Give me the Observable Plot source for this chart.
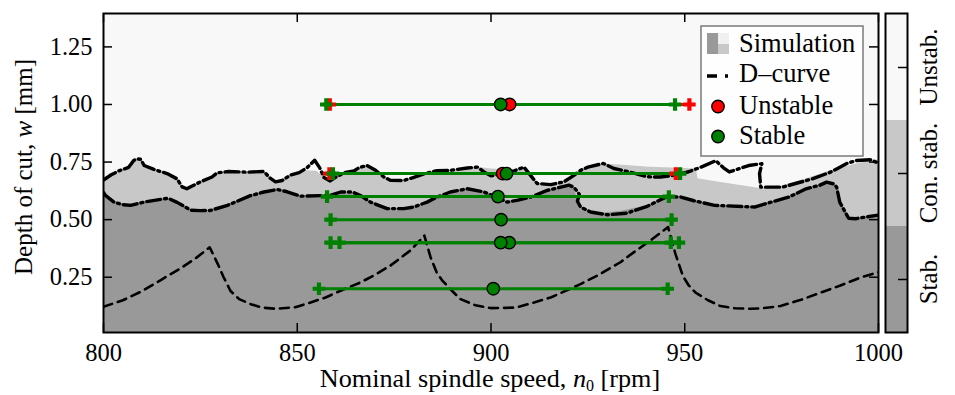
<!DOCTYPE html>
<html><head><meta charset="utf-8">
<script src="https://cdn.jsdelivr.net/npm/d3@7"></script>
<script src="https://cdn.jsdelivr.net/npm/@observablehq/plot@0.6"></script>
<style>
body{margin:0;background:#fff;}
#wrap{position:relative;width:955px;height:395px;}
#wrap svg{position:absolute;top:0;}
</style></head><body><div id="wrap"></div>
<script>
// ---------------- data ----------------
const xTicks = [800, 850, 900, 950, 1000];
const yTicks = [0.25, 0.50, 0.75, 1.00, 1.25];

// simulation: top of the conditionally-stable (light grey) region
const condStabTop = [
 [800,0.672],[802,0.695],[804,0.712],[806.5,0.727],[807.8,0.757],[808.6,0.764],[809.6,0.762],[810.5,0.735],[813,0.718],[816.4,0.700],[819,0.677],[820.3,0.642],[821.5,0.634],[822.5,0.643],[825,0.664],[828,0.685],[829.3,0.703],[832.3,0.709],[837,0.706],[841.4,0.709],[843,0.680],[844.4,0.664],[846.1,0.670],[848.3,0.694],[852,0.712],[855,0.710],[857,0.684],[858.5,0.668],[860.5,0.690],[862.5,0.705],[864.6,0.711],[866,0.726],[868,0.738],[870.2,0.716],[872.3,0.686],[874,0.671],[877.5,0.670],[880.1,0.684],[882.7,0.699],[886.1,0.713],[889.5,0.714],[893.9,0.724],[896.5,0.728],[900,0.720],[906,0.715],[908.5,0.725],[910.2,0.692],[911.9,0.657],[915.4,0.652],[918.8,0.664],[921.4,0.692],[923.1,0.714],[926,0.735],[929,0.742],[935,0.735],[941,0.728],[947,0.724],[953,0.720],[953.4,0.678],[961,0.657],[969.9,0.634],[974,0.641],[981,0.675],[988,0.713],[994,0.740],[1000,0.760]
];
// simulation: top of the stable (dark grey) region
const stabTop = [
 [800,0.620],[801,0.605],[802.7,0.580],[805,0.568],[807,0.568],[811,0.580],[816.4,0.591],[819,0.575],[822.5,0.543],[825,0.540],[827.6,0.541],[832,0.562],[837.9,0.604],[841.4,0.620],[844.8,0.630],[847.4,0.621],[850.8,0.603],[858.5,0.605],[861.2,0.618],[864.2,0.619],[866.3,0.605],[868.9,0.577],[873.2,0.549],[877.5,0.548],[880.1,0.555],[883.5,0.576],[886.1,0.598],[889.5,0.619],[893.9,0.632],[898.2,0.620],[901,0.600],[904.2,0.578],[907,0.588],[910.2,0.600],[914.5,0.625],[918,0.640],[920.1,0.650],[921.5,0.630],[922.5,0.585],[924,0.545],[928.3,0.528],[933.4,0.535],[940.3,0.560],[947,0.604],[950,0.598],[952.4,0.585],[957.5,0.563],[968.2,0.556],[970.8,0.568],[976.9,0.597],[981.3,0.632],[984.8,0.649],[986.6,0.660],[988.8,0.645],[989.8,0.590],[991.4,0.530],[992.5,0.506],[994,0.505],[1000,0.520]
];
// D-curve branches
const upperDCurve = [
 [800,0.672],[802,0.695],[804,0.712],[806.5,0.727],[807.8,0.757],[808.6,0.764],[809.6,0.762],[810.5,0.735],[813,0.718],[816.4,0.700],[819,0.677],[820.3,0.642],[821.5,0.634],[822.5,0.643],[825,0.664],[828,0.685],[829.3,0.703],[832.3,0.709],[837,0.706],[841.4,0.709],[843,0.680],[844.4,0.664],[846.1,0.670],[848.3,0.694],[850.5,0.704],[852.5,0.725],[854.5,0.758],[855.8,0.725],[856.9,0.683],[858.5,0.668],[860.5,0.690],[862.5,0.705],[864.6,0.711],[866,0.726],[868,0.735],[870.2,0.714],[872.3,0.686],[874,0.671],[877.5,0.670],[880.1,0.684],[882.7,0.699],[886.1,0.713],[889.5,0.714],[893.9,0.724],[896.5,0.728],[898.2,0.707],[900,0.690],[903,0.700],[906,0.712],[908.5,0.728],[910.2,0.692],[911.9,0.657],[915.4,0.652],[918.8,0.664],[921.4,0.692],[923.1,0.714],[925,0.728],[929,0.744],[931.7,0.722],[936,0.706],[940.3,0.686],[943.7,0.685],[947.2,0.692],[951,0.708],[954.2,0.728],[958,0.756],[960,0.725],[961.5,0.707],[966.5,0.735],[969.9,0.743],[969.3,0.700],[969.6,0.641],[975.2,0.641],[983.1,0.678],[987.6,0.706],[989.2,0.720],[991.7,0.743],[994.3,0.757],[997.9,0.760],[1000,0.745]
];
const lowerDCurve = [
 [800,0.618],[800.5,0.605],[802.7,0.576],[805,0.565],[807,0.562],[811,0.578],[816.7,0.593],[819,0.575],[822.5,0.541],[825,0.539],[827.6,0.540],[832,0.562],[837.9,0.604],[841.4,0.620],[844.8,0.631],[847.4,0.621],[850.8,0.602],[858.5,0.605],[861.2,0.620],[864.2,0.620],[866.3,0.605],[868.9,0.576],[873.2,0.548],[877.5,0.548],[880.1,0.555],[883.5,0.576],[886.1,0.598],[889.5,0.620],[893.9,0.634],[898.2,0.620],[901,0.600],[904.2,0.576],[907,0.585],[910.2,0.598],[914.5,0.627],[918,0.641],[920.1,0.650],[921.4,0.641],[922.8,0.610],[922.3,0.580],[923.1,0.555],[925.7,0.533],[930,0.521],[935,0.528],[940.3,0.558],[945.4,0.600],[949,0.598],[952.4,0.582],[957.7,0.562],[968.2,0.555],[970.8,0.569],[976.9,0.598],[981.3,0.634],[984.8,0.649],[986.6,0.663],[988.5,0.655],[989.2,0.641],[990,0.576],[991.4,0.533],[992.3,0.506],[994,0.504],[1000,0.520]
];
const lobeCurve = [
 [800,0.122],[805,0.150],[810,0.190],[815,0.240],[820,0.290],[824,0.335],[827.4,0.380],[829.5,0.307],[831,0.250],[832.8,0.190],[835,0.155],[838,0.133],[841,0.118],[844.4,0.113],[849.5,0.120],[853,0.138],[857.3,0.162],[861,0.190],[866.3,0.227],[870,0.260],[874,0.300],[879.2,0.366],[882.8,0.431],[884.4,0.337],[886,0.270],[887.5,0.234],[890,0.190],[892.1,0.155],[896,0.128],[899.9,0.116],[906.3,0.118],[910,0.135],[915.4,0.162],[923.1,0.220],[928,0.262],[933.4,0.315],[937,0.360],[941.2,0.410],[945.7,0.468],[947.6,0.351],[949.5,0.256],[951,0.215],[952.8,0.183],[956,0.150],[959.2,0.125],[963,0.115],[967,0.113],[970,0.115],[974.7,0.125],[980,0.152],[985,0.183],[990,0.213],[995.4,0.249],[1000,0.272]
];

// experiments: nominal speed, speed-variation amplitude, depth of cut, result
const expN0     = [904.8, 903.0, 902.5, 904.0, 901.8, 902.6, 904.7, 902.5, 900.6];
const expAmp    = [46.4,  44.7,  45.0,  44.8,  44.1,  44.0,  43.8,  43.9,  45.0];
const expDepth  = [1.00,  0.70,  1.00,  0.70,  0.60,  0.50,  0.40,  0.40,  0.20];
const expResult = ["Unstable","Unstable","Stable","Stable","Stable","Stable","Stable","Stable","Stable"];

const cbCats = ["Unstab.", "Con. stab.", "Stab."];
const legendLabels = ["Simulation", "D\u2013curve", "Unstable", "Stable"];

// ---------------- styling ----------------
const FONT = "'Liberation Serif', 'DejaVu Serif', serif";
const C_UNSTAB = "#f8f8f8", C_COND = "#c8c8c8", C_STAB = "#999999";
const cbColors = [C_UNSTAB, C_COND, C_STAB];
const resColor = {Unstable: "#ff0000", Stable: "#008000"};
const W = 955, H = 395, ML = 103, MR = 77, MT = 13, MB = 63;
const IW = W - ML - MR, IH = H - MT - MB, TK = 9;

const exps = expN0.map((n, i) => ({n0: n, amp: expAmp[i], w: expDepth[i], res: expResult[i]}));
const ends = exps.flatMap(e => [{x: e.n0 - e.amp, w: e.w, res: e.res}, {x: e.n0 + e.amp, w: e.w, res: e.res}]);
const dash = "14,4,2,4";

const main = Plot.plot({
  width: W, height: H, marginLeft: ML, marginRight: MR, marginTop: MT, marginBottom: MB,
  style: {fontFamily: FONT, fontSize: "24px", background: "transparent", color: "black"},
  x: {domain: [800, 1000]},
  y: {domain: [0.01, 1.395]},
  color: {type: "identity"},
  marks: [
    Plot.frame({fill: C_UNSTAB}),
    Plot.areaY(condStabTop, {x: d => d[0], y: d => d[1], fill: C_COND, clip: true}),
    Plot.areaY(stabTop, {x: d => d[0], y: d => d[1], fill: C_STAB, clip: true}),
    Plot.line(lobeCurve, {x: d => d[0], y: d => d[1], stroke: "black", strokeWidth: 2.6, strokeDasharray: "9,6", clip: true}),
    Plot.line(lowerDCurve, {x: d => d[0], y: d => d[1], stroke: "black", strokeWidth: 3.4, strokeDasharray: dash, clip: true}),
    Plot.line(upperDCurve, {x: d => d[0], y: d => d[1], stroke: "black", strokeWidth: 3.4, strokeDasharray: dash, clip: true}),
    Plot.link(exps, {x1: d => d.n0 - d.amp, x2: d => d.n0 + d.amp, y1: d => d.w, y2: d => d.w, stroke: d => resColor[d.res], strokeWidth: 3}),
    Plot.dot(ends, {x: "x", y: "w", symbol: "cross", r: 5.3, fill: d => resColor[d.res], stroke: "none"}),
    Plot.dot(exps, {x: "n0", y: "w", r: 6.2, fill: d => resColor[d.res], stroke: "black", strokeWidth: 1.4}),
    // inward ticks on all four sides
    Plot.tickX(xTicks, {x: d => d, insetTop: IH - TK, stroke: "black", strokeWidth: 1.5}),
    Plot.tickX(xTicks, {x: d => d, insetBottom: IH - TK, stroke: "black", strokeWidth: 1.5}),
    Plot.tickY(yTicks, {y: d => d, insetRight: IW - TK, stroke: "black", strokeWidth: 1.5}),
    Plot.tickY(yTicks, {y: d => d, insetLeft: IW - TK, stroke: "black", strokeWidth: 1.5}),
    Plot.axisX({ticks: xTicks, tickSize: 0, tickPadding: 11, tickFormat: d => String(d), label: null, fontSize: 24.5}),
    Plot.axisY({ticks: yTicks, tickSize: 0, tickPadding: 11, tickFormat: d3.format(".2f"), label: null, fontSize: 24.5}),
    Plot.frame({stroke: "black", strokeWidth: 2})
  ]
});

const cb = Plot.plot({
  width: 75, height: H, marginLeft: 5, marginRight: 48, marginTop: MT, marginBottom: MB,
  style: {fontFamily: FONT, fontSize: "24px", background: "transparent", color: "black"},
  x: {axis: null},
  y: {type: "band", domain: cbCats, padding: 0, axis: null},
  color: {type: "identity"},
  marks: [
    Plot.cell(cbCats, {y: d => d, fill: (d, i) => cbColors[i]}),
    Plot.tickY(cbCats, {y: d => d, insetLeft: 22 - TK, stroke: "black", strokeWidth: 1.5}),
    Plot.frame({stroke: "black", strokeWidth: 2})
  ]
});

const wrap = document.getElementById("wrap");
main.style.left = "0px";
cb.style.left = "880px";
wrap.appendChild(main);
wrap.appendChild(cb);

// colorbar labels, placed with the colorbar's own band scale
const ys = cb.scale("y");
const cbs = d3.select(cb).append("g").attr("font-family", FONT).attr("font-size", 25).attr("fill", "black").attr("text-anchor", "middle");
cbCats.forEach(c => {
  const yc = ys.apply(c) + ys.bandwidth / 2;
  cbs.append("text").attr("transform", `translate(57,${yc}) rotate(-90)`).text(c);
});

// axis titles (rich text: italic symbols, subscript)
const svg = d3.select(main);
const yl = svg.append("text").attr("transform", "translate(32,167) rotate(-90)")
  .attr("text-anchor", "middle").attr("font-size", 25).attr("font-family", FONT).attr("fill", "black");
yl.append("tspan").text("Depth of cut, ");
yl.append("tspan").attr("font-style", "italic").text("w");
yl.append("tspan").text(" [mm]");
const xl = svg.append("text").attr("x", 490).attr("y", 387)
  .attr("text-anchor", "middle").attr("font-size", 26.2).attr("font-family", FONT).attr("fill", "black");
xl.append("tspan").text("Nominal spindle speed, ");
xl.append("tspan").attr("font-style", "italic").text("n");
xl.append("tspan").attr("font-size", 16).attr("dy", 4).text("0");
xl.append("tspan").attr("dy", -4).text(" [rpm]");

// legend
const lg = svg.append("g").attr("font-family", FONT).attr("font-size", 26.5).attr("fill", "black").attr("text-anchor", "start");
lg.append("rect").attr("x", 701).attr("y", 26).attr("width", 162).attr("height", 130)
  .attr("fill", "#ffffff").attr("fill-opacity", 0.85).attr("stroke", "#7a7a7a").attr("stroke-width", 1.5);
lg.append("rect").attr("x", 707).attr("y", 33).attr("width", 11).attr("height", 21).attr("fill", C_STAB);
lg.append("rect").attr("x", 718).attr("y", 33).attr("width", 11).attr("height", 11).attr("fill", "#f0f0f0");
lg.append("rect").attr("x", 718).attr("y", 44).attr("width", 11).attr("height", 10).attr("fill", C_COND);
lg.append("line").attr("x1", 707).attr("x2", 729).attr("y1", 76).attr("y2", 76)
  .attr("stroke", "black").attr("stroke-width", 3.4).attr("stroke-dasharray", "10,8,3,8");
lg.append("circle").attr("cx", 718).attr("cy", 106.5).attr("r", 6.2).attr("fill", resColor.Unstable).attr("stroke", "black").attr("stroke-width", 1.4);
lg.append("circle").attr("cx", 718).attr("cy", 136.5).attr("r", 6.2).attr("fill", resColor.Stable).attr("stroke", "black").attr("stroke-width", 1.4);
[52, 82, 113.5, 143.5].forEach((y, i) =>
  lg.append("text").attr("x", 739).attr("y", y).text(legendLabels[i]));
</script>
</body></html>
